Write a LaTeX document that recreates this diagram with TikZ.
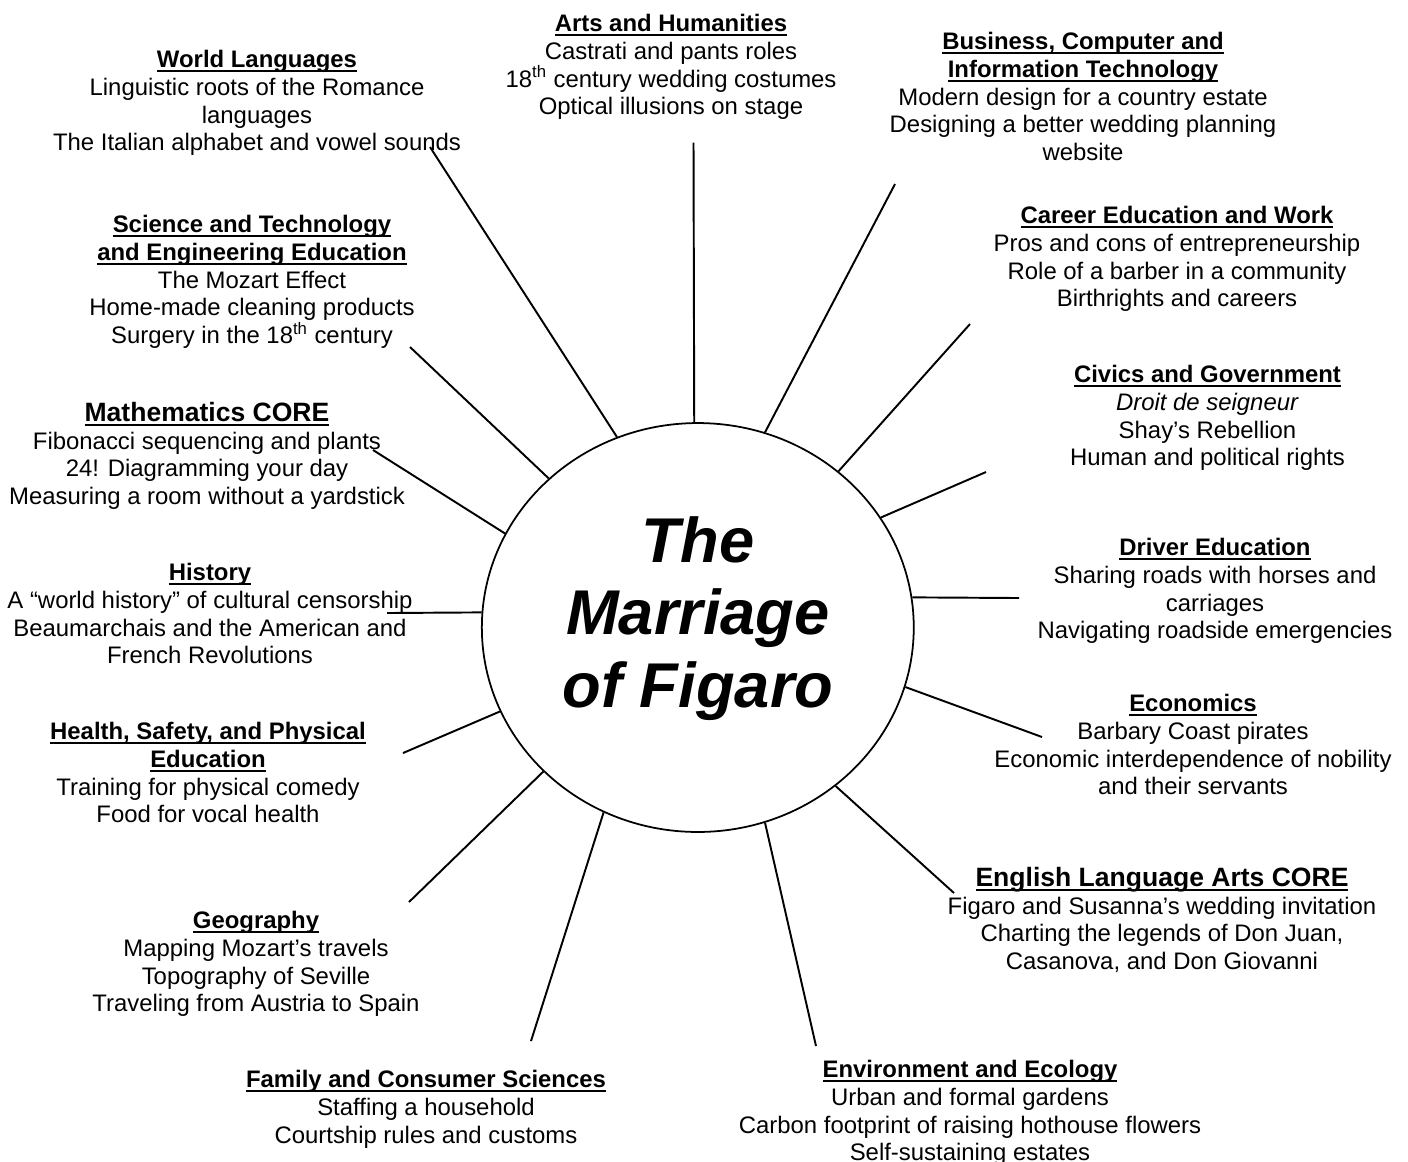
\documentclass[tikz,border=0pt]{standalone}
\usepackage{fontspec}
\setmainfont{Liberation Sans}
\usetikzlibrary{shapes.geometric}

% bold heading with a low underline (through the descenders)
\newcommand{\hd}[1]{\setbox0\hbox{\bfseries #1}\rlap{\vrule height -.095em depth .18em width \wd0}\box0}
\newcommand{\core}[1]{{\fontsize{15.1pt}{15.75pt}\selectfont\hd{#1}}}

\begin{document}
\begin{tikzpicture}[x=0.02cm,y=-0.02cm]
\tikzset{
  topic/.style={align=center, anchor=north, inner sep=0pt,
    font=\fontsize{13.6pt}{15.75pt}\selectfont},
  hub/.style={draw, ellipse, line width=1pt, inner sep=0pt,
    minimum width=8.64cm, minimum height=8.18cm},
  title/.style={align=center, anchor=north, inner sep=0pt,
    font=\fontsize{36pt}{41.25pt}\selectfont\bfseries\itshape},
  spoke/.style={line width=1.1pt}
}
  \useasboundingbox (0,0) rectangle (1408,1161);

  % centre
  \node[hub] (hub) at (697.8,627.5) {};
  \node[title] (title) at (698,516) {The\\Marriage\\of Figaro};

  % subject areas
  \node[topic] (arts) at (671,14) {\hd{Arts and Humanities}\\Castrati and pants roles\\18\textsuperscript{th} century wedding costumes\\Optical illusions on stage};
  \node[topic] (biz) at (1083,32) {\hd{Business, Computer and}\\\hd{Information Technology}\\Modern design for a country estate\\Designing a better wedding planning\\website};
  \node[topic] (career) at (1177,206) {\hd{Career Education and Work}\\Pros and cons of entrepreneurship\\Role of a barber in a community\\Birthrights and careers};
  \node[topic] (civics) at (1207.5,365) {\hd{Civics and Government}\\\textit{Droit de seigneur}\\Shay’s Rebellion\\Human and political rights};
  \node[topic] (driver) at (1215,538) {\hd{Driver Education}\\Sharing roads with horses and\\carriages\\Navigating roadside emergencies};
  \node[topic] (econ) at (1193,694) {\hd{Economics}\\Barbary Coast pirates\\Economic interdependence of nobility\\and their servants};
  \node[topic] (ela) at (1162,867) {\core{English Language Arts CORE}\\Figaro and Susanna’s wedding invitation\\Charting the legends of Don Juan,\\Casanova, and Don Giovanni};
  \node[topic] (env) at (970,1060) {\hd{Environment and Ecology}\\Urban and formal gardens\\Carbon footprint of raising hothouse flowers\\Self-sustaining estates};
  \node[topic] (fcs) at (426,1070) {\hd{Family and Consumer Sciences}\\Staffing a household\\Courtship rules and customs};
  \node[topic] (geo) at (256,911) {\hd{Geography}\\Mapping Mozart’s travels\\Topography of Seville\\Traveling from Austria to Spain};
  \node[topic] (health) at (208,722) {\hd{Health, Safety, and Physical}\\\hd{Education}\\Training for physical comedy\\Food for vocal health};
  \node[topic] (hist) at (210,563) {\hd{History}\\A “world history” of cultural censorship\\Beaumarchais and the American and\\French Revolutions};
  \node[topic] (math) at (207,402) {\core{Mathematics CORE}\\Fibonacci sequencing and plants\\24! Diagramming your day\\Measuring a room without a yardstick};
  \node[topic] (sci) at (252,215) {\hd{Science and Technology}\\\hd{and Engineering Education}\\The Mozart Effect\\Home-made cleaning products\\Surgery in the 18\textsuperscript{th} century};
  \node[topic] (lang) at (257,50) {\hd{World Languages}\\Linguistic roots of the Romance\\languages\\The Italian alphabet and vowel sounds};

  % outer ends of the spokes
  \coordinate (arts-t) at (693.5,142.5);
  \coordinate (biz-t) at (895,184);
  \coordinate (career-t) at (970,324);
  \coordinate (civics-t) at (986,472);
  \coordinate (driver-t) at (1019,598);
  \coordinate (econ-t) at (1042,737);
  \coordinate (ela-t) at (954,893);
  \coordinate (env-t) at (816,1046);
  \coordinate (fcs-t) at (531,1041);
  \coordinate (geo-t) at (409,902);
  \coordinate (health-t) at (403,753);
  \coordinate (hist-t) at (387,613);
  \coordinate (math-t) at (373,450);
  \coordinate (sci-t) at (410,347);
  \coordinate (lang-t) at (430,147);

  \draw[spoke] (hub.91) -- (arts-t);
  \draw[spoke] (hub.71) -- (biz-t);
  \draw[spoke] (hub.48) -- (career-t);
  \draw[spoke] (hub.31) -- (civics-t);
  \draw[spoke] (hub.8) -- (driver-t);
  \draw[spoke] (hub.344) -- (econ-t);
  \draw[spoke] (hub.311) -- (ela-t);
  \draw[spoke] (hub.289) -- (env-t);
  \draw[spoke] (hub.243) -- (fcs-t);
  \draw[spoke] (hub.223) -- (geo-t);
  \draw[spoke] (hub.203) -- (health-t);
  \draw[spoke] (hub.176) -- (hist-t);
  \draw[spoke] (hub.154) -- (math-t);
  \draw[spoke] (hub.135) -- (sci-t);
  \draw[spoke] (hub.113) -- (lang-t);
\end{tikzpicture}
\end{document}
